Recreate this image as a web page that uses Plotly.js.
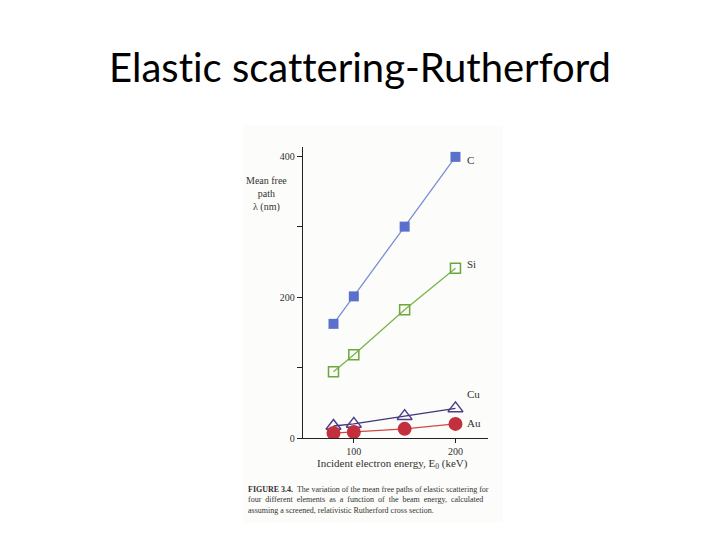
<!DOCTYPE html>
<html>
<head>
<meta charset="utf-8">
<script src="https://cdn.plot.ly/plotly-3.0.1.min.js"></script>
<style>html,body{margin:0;padding:0;background:#fff;}#chart{width:720px;height:540px;}
svg text{font-variant-ligatures:none !important;font-feature-settings:"liga" 0,"clig" 0,"dlig" 0 !important;text-rendering:optimizeSpeed !important;}</style>
</head>
<body>
<div id="chart"></div>
<script>
var energies = [80, 100, 150, 200];
var carbon = [162, 201, 300, 399];
var silicon = [94, 118, 182, 241];
var copper = [17, 20, 31, 42];
var gold = [7, 8.5, 13, 20];
var elementLabels = ['C', 'Si', 'Cu', 'Au'];
var labelY = [395, 247, 63, 21];
var yTickVals = [0, 200, 400];
var yTickText = ['0', '200', '400'];
var xTickVals = [100, 200];
var xTickText = ['100', '200'];

var serif = 'Liberation Serif, Times New Roman, serif';

var traces = [
  {x: energies, y: carbon, mode: 'lines+markers', line: {color: '#7a8ed8', width: 1.3},
   marker: {symbol: 'square', size: 10, color: '#5a70cc'}},
  {x: energies, y: silicon, mode: 'lines+markers', line: {color: '#79b54a', width: 1.3},
   marker: {symbol: 'square-open', size: 10, color: '#6aa83c', line: {width: 1.5}}},
  {x: energies, y: copper, mode: 'lines+markers', line: {color: '#40357a', width: 1.3},
   marker: {symbol: 'triangle-up-open', size: 13, color: '#4b3f8c', line: {width: 1.5}}},
  {x: energies, y: gold, mode: 'lines+markers', line: {color: '#d04848', width: 1.3},
   marker: {symbol: 'circle', size: 14, color: '#c2303e'}}
];

var annotations = elementLabels.map(function (t, i) {
  return {x: 209, y: labelY[i], xref: 'x', yref: 'y', text: t, showarrow: false,
    xanchor: 'left', yanchor: 'middle', font: {family: serif, size: 11, color: '#333'}};
});
annotations.push({x: -0.195, y: 346, xref: 'paper', yref: 'y', showarrow: false,
  text: 'Mean free<br>path<br>λ (nm)', align: 'center', xanchor: 'center', yanchor: 'middle',
  font: {family: serif, size: 10, color: '#333'}});
annotations.push({x: 138, y: -0.09, xref: 'x', yref: 'paper', showarrow: false,
  text: 'Incident electron energy, E<sub>0</sub> (keV)', xanchor: 'center', yanchor: 'middle',
  font: {family: serif, size: 11, color: '#333'}});
annotations.push({x: -0.31, y: -0.155, xref: 'paper', yref: 'paper', showarrow: false,
  text: '<b>FIGURE 3.4.</b>  The variation of the mean free paths of elastic scattering for<br>four  different  elements  as  a  function  of  the  beam  energy,  calculated<br>assuming a screened, relativistic Rutherford cross section.',
  align: 'left', xanchor: 'left', yanchor: 'top',
  font: {family: serif, size: 8, color: '#333'}});

var layout = {
  width: 720, height: 540,
  margin: {l: 303, r: 232, t: 147, b: 102},
  paper_bgcolor: '#ffffff', plot_bgcolor: 'rgba(0,0,0,0)',
  showlegend: false,
  title: {text: 'Elastic scattering-Rutherford', x: 0.5, xanchor: 'center', y: 0.875, yanchor: 'middle',
    font: {family: 'Lato, Open Sans, sans-serif', size: 40, color: '#000'}},
  xaxis: {range: [50, 232], showgrid: false, zeroline: false, showline: true, linecolor: '#222', linewidth: 1.2,
    ticks: 'outside', ticklen: 4, tickcolor: '#222', tickvals: xTickVals, ticktext: xTickText,
    tickfont: {family: serif, size: 10, color: '#333'}},
  yaxis: {range: [0, 413], showgrid: false, zeroline: false, showline: true, linecolor: '#222', linewidth: 1.2,
    ticks: 'outside', ticklen: 5, tickcolor: '#222', tickvals: yTickVals, ticktext: yTickText,
    tickfont: {family: serif, size: 10, color: '#333'},
    minor: {ticks: 'outside', ticklen: 5, tickcolor: '#222', tick0: 0, dtick: 100, showgrid: false}},
  shapes: [{type: 'rect', xref: 'paper', yref: 'paper', x0: -0.324, x1: 1.08, y0: -0.29, y1: 1.075,
    fillcolor: '#fcfcfa', line: {width: 0}, layer: 'below'}],
  annotations: annotations
};

Plotly.newPlot('chart', traces, layout, {displayModeBar: false, staticPlot: true});
</script>
</body>
</html>
